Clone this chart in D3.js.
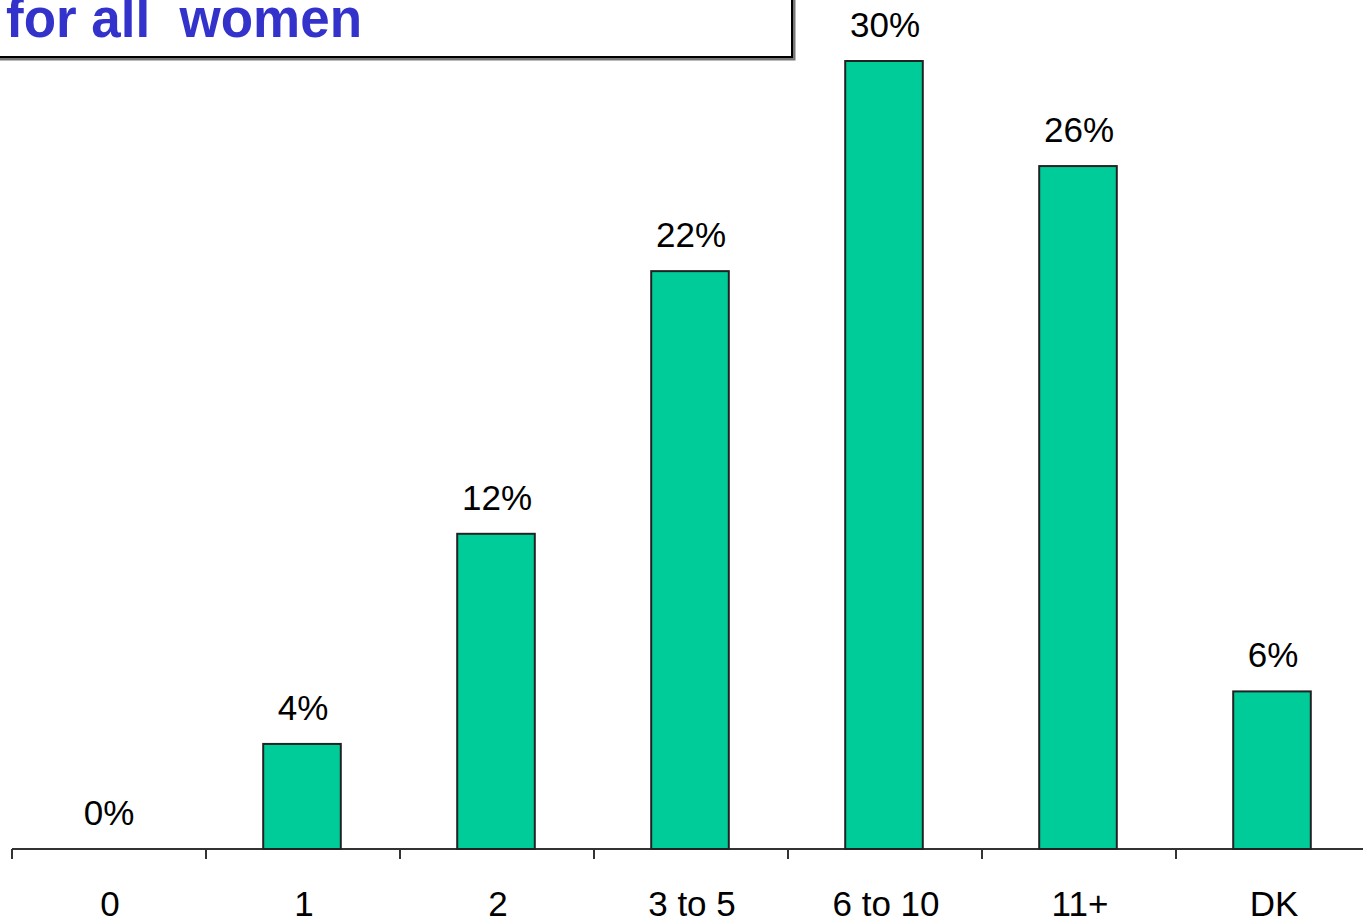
<!DOCTYPE html>
<html><head><meta charset="utf-8">
<script src="https://cdn.jsdelivr.net/npm/d3@7"></script>
<style>html,body{margin:0;padding:0;background:#fff;overflow:hidden}</style>
</head><body>
<script>
const categories = ["0","1","2","3 to 5","6 to 10","11+","DK"];
const values = [0,4,12,22,30,26,6];
const valueLabels = ["0%","4%","12%","22%","30%","26%","6%"];
const titleText = "for all  women";

const W = 1363, H = 917;
const svg = d3.select("body").append("svg").attr("width", W).attr("height", H);

const x = d3.scaleBand().domain(categories).range([12, 12 + 194*7]).padding(0);
const y = d3.scaleLinear().domain([0, 30]).range([849, 61]);
const bw = x.bandwidth() * 0.4;

// axis line
svg.append("line").attr("x1", 12).attr("x2", W).attr("y1", y(0)).attr("y2", y(0))
  .attr("stroke", "#333").attr("stroke-width", 2);
// ticks
const tickPos = categories.map(c => x(c));
svg.selectAll("line.tick").data(tickPos).enter().append("line")
  .attr("x1", d => d).attr("x2", d => d).attr("y1", y(0)).attr("y2", y(0) + 10)
  .attr("stroke", "#333").attr("stroke-width", 2);

// bars
svg.selectAll("rect.bar").data(categories.filter((c,i)=>values[i]>0)).enter().append("rect")
  .attr("x", c => x(c) + x.bandwidth()/2 - bw/2 - 1)
  .attr("y", c => y(values[categories.indexOf(c)]))
  .attr("width", bw)
  .attr("height", c => y(0) - y(values[categories.indexOf(c)]))
  .attr("fill", "#00CC99").attr("stroke", "#222").attr("stroke-width", 2);

// value labels
svg.selectAll("text.val").data(categories).enter().append("text")
  .attr("x", c => x(c) + x.bandwidth()/2)
  .attr("y", (c,i) => y(values[i]) - 24)
  .attr("text-anchor", "middle")
  .attr("font-family", "Liberation Sans, Arial, sans-serif")
  .attr("font-size", 35).attr("fill", "#000")
  .text((c,i) => valueLabels[i]);

// category labels
svg.selectAll("text.cat").data(categories).enter().append("text")
  .attr("x", c => x(c) + x.bandwidth()/2 + 1)
  .attr("y", 916)
  .attr("text-anchor", "middle")
  .attr("font-family", "Liberation Sans, Arial, sans-serif")
  .attr("font-size", 35).attr("fill", "#000")
  .text(c => c);

// title box
svg.append("path").attr("d", "M-5,59 L794,59 L794,-5")
  .attr("fill", "none").attr("stroke", "#777").attr("stroke-width", 3);
svg.append("path").attr("d", "M-5,57 L792,57 L792,-5")
  .attr("fill", "none").attr("stroke", "#000").attr("stroke-width", 2);
svg.append("text").attr("x", 6).attr("y", 37)
  .style("white-space", "pre")
  .attr("font-family", "Liberation Sans, Arial, sans-serif")
  .attr("font-weight", "bold").attr("font-size", 55)
  .attr("fill", "#3333CC")
  .attr("textLength", 356).attr("lengthAdjust", "spacingAndGlyphs")
  .text(titleText);
</script>
</body></html>
